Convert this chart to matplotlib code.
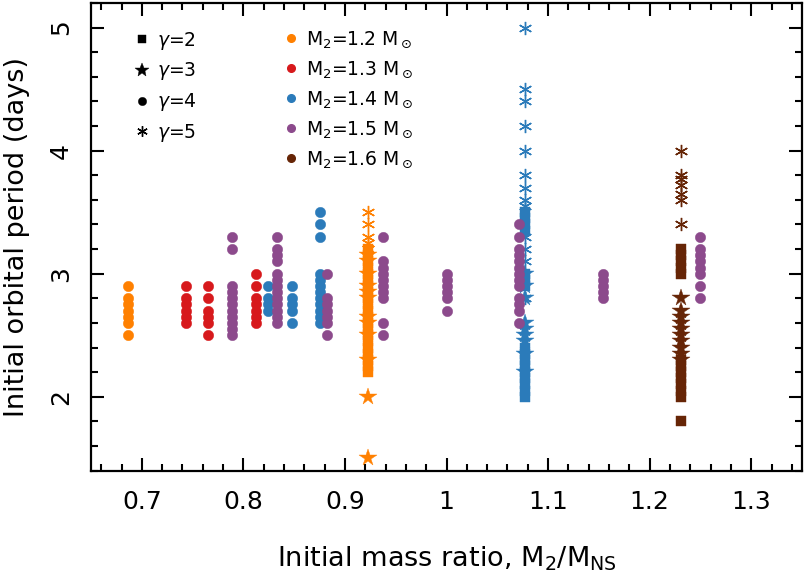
import numpy as np
import matplotlib
matplotlib.use("Agg")
import matplotlib.pyplot as plt
from matplotlib.lines import Line2D
from matplotlib.ticker import MultipleLocator

# companion masses and their colours
m2_labels = ["1.2", "1.3", "1.4", "1.5", "1.6"]
m2_colors = ["#ff8000", "#d7191c", "#2b7bba", "#8c4a8c", "#662506"]

# gamma -> marker
gammas = [2, 3, 4, 5]
gamma_markers = {2: "s", 3: "*", 4: "o", 5: (6, 2, 0)}
gamma_sizes = {2: 6.5, 3: 13, 4: 7.5, 5: 9.5}

# rows: (mass ratio q, gamma, initial periods in days)
runs_12 = [
    (0.686, 4, [2.5, 2.6, 2.65, 2.7, 2.75, 2.8, 2.9]),
    (0.923, 2, [2.2, 2.25, 2.3, 2.35, 2.4, 2.45, 2.5, 2.55, 2.6, 2.65, 2.7,
                2.75, 2.8, 2.85, 2.9, 2.95, 3.0, 3.05, 3.1, 3.15, 3.2]),
    (0.923, 3, [1.5, 2.0, 2.3, 2.5, 2.6, 2.65, 2.8, 2.85, 2.9, 3.0, 3.1, 3.15]),
    (0.923, 5, [3.2, 3.25, 3.3, 3.4, 3.5]),
]
runs_13 = [
    (0.743, 4, [2.6, 2.65, 2.7, 2.75, 2.8, 2.9]),
    (0.765, 4, [2.5, 2.6, 2.65, 2.7, 2.8, 2.9]),
    (0.8125, 4, [2.6, 2.65, 2.7, 2.75, 2.8, 2.9, 3.0]),
]
runs_14 = [
    (0.824, 4, [2.7, 2.75, 2.8, 2.9]),
    (0.848, 4, [2.6, 2.7, 2.75, 2.8, 2.9]),
    (0.875, 4, [2.6, 2.65, 2.7, 2.75, 2.8, 2.85, 2.9, 2.95, 3.0, 3.3, 3.4, 3.5]),
    (1.077, 2, [2.0, 2.05, 2.1, 2.15, 2.2, 2.25, 2.3, 2.35, 2.4,
                2.9, 2.95, 3.0, 3.35, 3.4, 3.45, 3.5]),
    (1.077, 3, [2.2, 2.35, 2.45, 2.5, 2.55, 2.6, 2.8, 2.9, 3.0]),
    (1.077, 5, [2.8, 3.1, 3.2, 3.3, 3.55, 3.6, 3.7, 3.8, 4.0, 4.2, 4.4, 4.5, 5.0]),
]
runs_15 = [
    (0.789, 4, [2.5, 2.55, 2.6, 2.65, 2.7, 2.75, 2.8, 2.85, 2.9, 3.2, 3.3]),
    (0.833, 4, [2.6, 2.65, 2.7, 2.75, 2.8, 2.85, 2.9, 2.95, 3.0,
                3.1, 3.15, 3.2, 3.3]),
    (0.882, 4, [2.5, 2.6, 2.65, 2.7, 2.75, 2.8, 3.0]),
    (0.9375, 4, [2.5, 2.6, 2.8, 2.85, 2.9, 2.95, 3.0, 3.05, 3.1, 3.3]),
    (1.0, 4, [2.7, 2.8, 2.85, 2.9, 2.95, 3.0]),
    (1.071, 4, [2.6, 2.7, 2.75, 2.8, 2.9, 2.95, 3.0, 3.05, 3.1, 3.15, 3.2,
                3.3, 3.4]),
    (1.154, 4, [2.8, 2.85, 2.9, 2.95, 3.0]),
    (1.25, 4, [2.8, 2.9, 3.0, 3.05, 3.1, 3.15, 3.2, 3.3]),
]
runs_16 = [
    (1.231, 2, [1.8, 2.0, 2.05, 2.1, 2.15, 2.2, 2.25, 2.3,
                3.0, 3.05, 3.1, 3.15, 3.2]),
    (1.231, 3, [2.3, 2.35, 2.4, 2.45, 2.5, 2.55, 2.6, 2.65, 2.7, 2.8]),
    (1.231, 5, [3.4, 3.6, 3.65, 3.72, 3.77, 3.8, 4.0]),
]
all_runs = [runs_12, runs_13, runs_14, runs_15, runs_16]

plt.rcParams['font.family'] = ['DejaVu Sans']
plt.rcParams['mathtext.fontset'] = 'dejavusans'

fig = plt.figure(figsize=(8.06, 5.81), dpi=100)
ax = fig.add_axes([0.113, 0.19, 0.882, 0.805])

for runs, col in zip(all_runs, m2_colors):
    for g in gammas:
        for q, gam, periods in runs:
            if gam != g:
                continue
            p = np.asarray(periods)
            ax.plot(np.full(len(p), q), p, linestyle='none',
                    marker=gamma_markers[g], markersize=gamma_sizes[g],
                    color=col, markeredgecolor=col,
                    markeredgewidth=1.0 if g == 5 else 0.3)

ax.set_xlim(0.65, 1.35)
ax.set_ylim(1.4, 5.2)
ax.xaxis.set_major_locator(MultipleLocator(0.1))
ax.xaxis.set_minor_locator(MultipleLocator(0.02))
ax.yaxis.set_major_locator(MultipleLocator(1))
ax.yaxis.set_minor_locator(MultipleLocator(0.2))
ax.set_xticks([0.7, 0.8, 0.9, 1.0, 1.1, 1.2, 1.3])
ax.set_xticklabels(["0.7", "0.8", "0.9", "1", "1.1", "1.2", "1.3"])

ax.tick_params(which='both', direction='in', top=True, right=True,
               width=1.5, labelsize=18)
ax.tick_params(which='major', length=9.5)
ax.tick_params(which='minor', length=5)
ax.tick_params(axis='x', pad=14)
ax.tick_params(axis='y', pad=13)
for lab in ax.get_yticklabels():
    lab.set_rotation(90)
    lab.set_va('center')
for s in ax.spines.values():
    s.set_linewidth(1.6)

ax.set_xlabel(r"Initial mass ratio, M$_2$/M$_{\rm NS}$", fontsize=19.5, labelpad=22)
ax.set_ylabel("Initial orbital period (days)", fontsize=19.5, labelpad=14)

# legend for gamma (marker shape)
g_handles = [Line2D([], [], linestyle='none', marker=gamma_markers[g],
                    markersize=gamma_sizes[g] * 0.8, color='black',
                    markeredgewidth=1.0 if g == 5 else 0.3)
             for g in gammas]
g_labels = [r"$\gamma$=%d" % g for g in gammas]
leg1 = ax.legend(g_handles, g_labels, loc='upper left',
                 bbox_to_anchor=(0.045, 0.963), frameon=False, fontsize=13.5,
                 handlelength=1.0, handletextpad=0.3, labelspacing=0.47,
                 borderpad=0)
ax.add_artist(leg1)

# legend for companion mass (colour)
c_handles = [Line2D([], [], linestyle='none', marker='o', markersize=5.5,
                    color=c) for c in m2_colors]
c_labels = [r"M$_2$=%s M$_\odot$" % m for m in m2_labels]
ax.legend(c_handles, c_labels, loc='upper left',
          bbox_to_anchor=(0.255, 0.963), frameon=False, fontsize=13.5,
          handlelength=1.0, handletextpad=0.3, labelspacing=0.5,
          borderpad=0)

fig.savefig("out.png", dpi=100)
